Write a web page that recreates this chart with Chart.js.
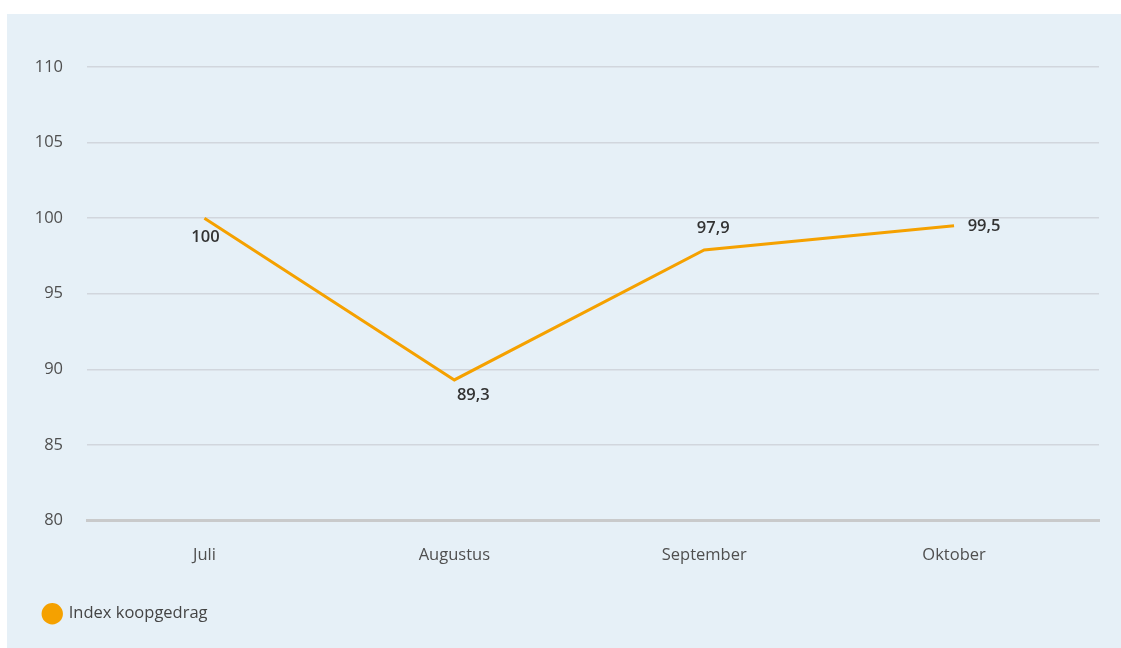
<!DOCTYPE html>
<html>
<head>
<meta charset="utf-8">
<script src="https://cdn.jsdelivr.net/npm/chart.js@4"></script>
<style>
    html, body { margin: 0; padding: 0; background: #fff; }
    #panel {
        position: absolute;
        left: 7px;
        top: 14px;
        width: 1114px;
        height: 634px;
        background: #e6f0f7;
    }
</style>
</head>
<body>
<div id="panel"><canvas id="lineChart"></canvas></div>
<script>
const months = ['Juli', 'Augustus', 'September', 'Oktober'];
const indexValues = [100, 89.3, 97.9, 99.5];
const yTicks = [80, 85, 90, 95, 100, 105, 110];
const seriesName = 'Index koopgedrag';

const FONT = '"Open Sans", "Noto Sans", sans-serif';

// value labels next to each point, offset in px from the point
const valueLabels = {
    id: 'valueLabels',
    afterDatasetsDraw(chart, args, opts) {
        const ctx = chart.ctx;
        const meta = chart.getDatasetMeta(0);
        ctx.save();
        ctx.font = '600 16.5px ' + FONT;
        ctx.fillStyle = '#333';
        ctx.textAlign = 'center';
        ctx.textBaseline = 'middle';
        meta.data.forEach((pt, i) => {
            const [dx, dy] = opts.offsets[i];
            const text = String(indexValues[i]).replace('.', ',');
            ctx.fillText(text, pt.x + dx, pt.y + dy);
        });
        ctx.restore();
    }
};

const ctx = document.getElementById('lineChart').getContext('2d');
const lineChart = new Chart(ctx, {
    type: 'line',
    data: {
        datasets: [{
            label: seriesName,
            data: indexValues.map((v, i) => ({ x: i, y: v })),
            borderColor: '#f5a100',
            backgroundColor: '#f5a100',
            borderWidth: 3,
            pointRadius: 0,
            tension: 0
        }]
    },
    options: {
        responsive: true,
        maintainAspectRatio: false,
        animation: false,
        layout: { padding: { top: 53, left: 27, right: 22, bottom: 16 } },
        scales: {
            x: {
                type: 'linear',
                min: -0.47,
                max: 3.58,
                afterBuildTicks: scale => { scale.ticks = months.map((m, i) => ({ value: i })); },
                afterFit: scale => { scale.height = 75; },
                grid: { display: false, drawTicks: false },
                border: { display: true, color: '#c9cacb', width: 3 },
                ticks: {
                    padding: 25,
                    color: '#4f4f4f',
                    font: { family: FONT, size: 16.5 },
                    callback: v => months[v]
                }
            },
            y: {
                min: 80,
                max: 110,
                afterBuildTicks: scale => { scale.ticks = yTicks.map(v => ({ value: v })); },
                afterFit: scale => { scale.width = 53; },
                grid: { color: '#d1d6dd', lineWidth: 1.5, drawTicks: false },
                border: { display: false },
                ticks: {
                    padding: 24,
                    color: '#4f4f4f',
                    font: { family: FONT, size: 16.5 }
                }
            }
        },
        plugins: {
            legend: {
                position: 'bottom',
                align: 'start',
                labels: {
                    usePointStyle: true,
                    pointStyle: 'circle',
                    boxWidth: 17,
                    boxHeight: 13,
                    padding: 10,
                    color: '#444',
                    font: { family: FONT, size: 16.5 }
                }
            },
            tooltip: { enabled: false },
            valueLabels: {
                offsets: [[1, 19], [19, 15], [9, -22], [30, 1]]
            }
        }
    },
    plugins: [valueLabels]
});
</script>
</body>
</html>
